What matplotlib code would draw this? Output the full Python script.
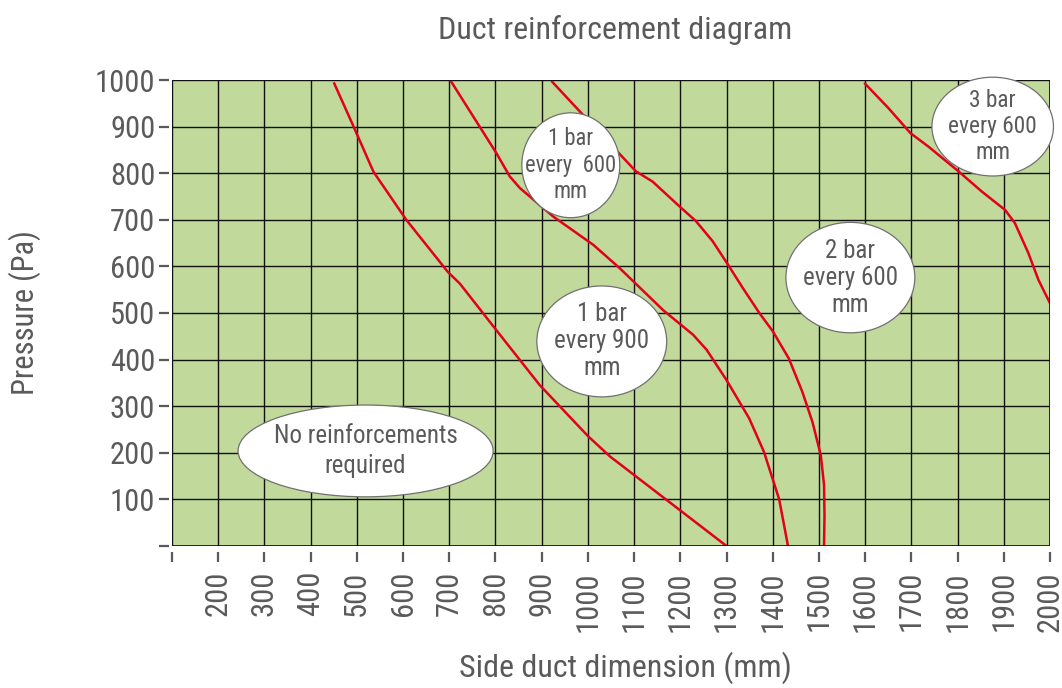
import numpy as np
import matplotlib
matplotlib.use("Agg")
import matplotlib.pyplot as plt
from matplotlib.patches import Ellipse

plt.rcParams['font.family'] = ['Roboto Condensed', 'Roboto', 'DejaVu Sans']

# duct side (mm) vs pressure (Pa) limit curves
side_ticks = list(range(100, 2001, 100))
pressure_ticks = list(range(0, 1001, 100))

c1_x = [450, 493, 536, 607, 697, 723, 802, 896, 1001, 1048, 1199, 1300]
c1_y = [995, 900, 803, 700, 588, 563, 463, 345, 235, 192, 77, 0]

c2_x = [702, 802, 831, 853, 925, 1012, 1069, 1163, 1228, 1257, 1300, 1349, 1381, 1414, 1433]
c2_y = [1000, 843, 793, 768, 707, 646, 596, 506, 453, 421, 356, 274, 202, 100, 0]

c3_x = [921, 983, 1067, 1104, 1140, 1198, 1234, 1270, 1303, 1335, 1371, 1400,
        1435, 1464, 1486, 1504, 1511, 1512, 1511]
c3_y = [998, 932, 843, 804, 782, 729, 697, 654, 604, 554, 500, 461,
        402, 331, 266, 195, 131, 66, 0]

c4_x = [1598, 1651, 1698, 1737, 1802, 1852, 1903, 1924, 1953, 1975, 2000]
c4_y = [994, 939, 886, 857, 804, 761, 721, 693, 629, 571, 521]

zone_labels = ["No reinforcements\nrequired", "1 bar\nevery  600\nmm",
               "1 bar\nevery 900\nmm", "2 bar\nevery 600\nmm",
               "3 bar\nevery 600\nmm"]

# bubble placement: center x, center y, width, height, fontsize, linespacing
bubbles = [
    (519, 204, 552, 197, 18, 1.36),
    (963, 817, 212, 225, 16.3, 1.19),
    (1030, 439, 281, 238, 18, 1.16),
    (1568, 576, 279, 237, 18, 1.16),
    (1876, 900, 263, 212, 16.8, 1.15),
]

GREY = '#5a5a5a'
RED = '#e2001a'

fig = plt.figure(figsize=(10.62, 6.88), dpi=100)
ax = fig.add_axes([172/1062, 1 - 546/688, 878/1062, 466/688])
ax.set_facecolor('#c1da9b')
ax.set_xlim(100, 2000)
ax.set_ylim(0, 1000)

# ticks sit a little away from the frame, so shift the (hidden) spines first
for side in ax.spines:
    ax.spines[side].set_visible(False)
ax.spines['left'].set_position(('outward', 2))
ax.spines['bottom'].set_position(('outward', 4))
ax.add_patch(plt.Rectangle((0, 0), 1, 1, transform=ax.transAxes, fill=False,
                           edgecolor='#111111', linewidth=1.2, zorder=5))

ax.set_xticks(side_ticks)
ax.set_xticklabels([''] + [str(v) for v in side_ticks[1:]], rotation=90)
ax.set_yticks(pressure_ticks)
ax.set_yticklabels([''] + [str(v) for v in pressure_ticks[1:]])
ax.tick_params(axis='both', colors=GREY, labelsize=22, length=7, width=1.6)
ax.tick_params(axis='x', pad=7)
ax.tick_params(axis='y', pad=3)

ax.grid(True, color='#111111', linewidth=1.0)
ax.set_axisbelow(True)

for cx, cy in [(c1_x, c1_y), (c2_x, c2_y), (c3_x, c3_y), (c4_x, c4_y)]:
    ax.plot(cx, cy, color=RED, linewidth=1.8, zorder=3, solid_capstyle='butt')

for text, (bx, by, bw, bh, fs, ls) in zip(zone_labels, bubbles):
    ax.add_patch(Ellipse((bx, by), bw, bh, facecolor='white', edgecolor='#707070',
                         linewidth=0.9, zorder=6, clip_on=False))
    ax.text(bx, by, text, ha='center', va='center', fontsize=fs, color=GREY,
            linespacing=ls, zorder=7)

fig.text(615/1062, 1 - 30/688, "Duct reinforcement diagram", ha='center', va='center',
         fontsize=23, color=GREY)
fig.text(625/1062, 1 - 668/688, "Side duct dimension (mm)", ha='center', va='center',
         fontsize=23, color=GREY)
fig.text(25/1062, 1 - 313/688, "Pressure (Pa)", ha='center', va='center',
         fontsize=22, color=GREY, rotation=90)

fig.savefig('out.png', dpi=100)
